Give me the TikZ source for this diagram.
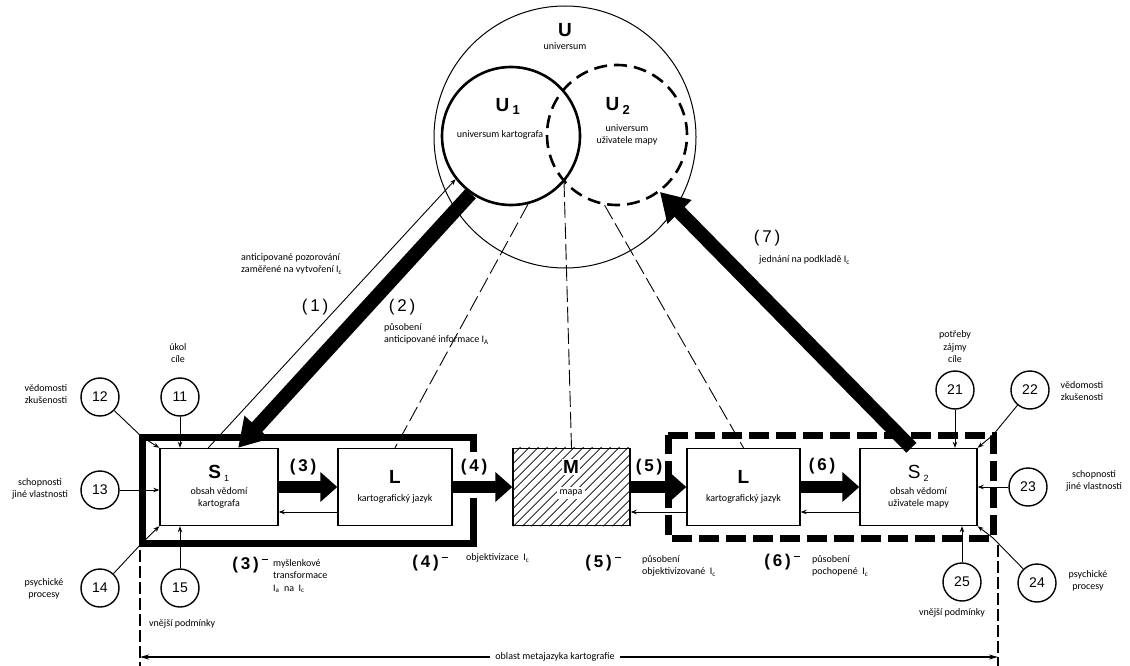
\documentclass[tikz,border=0pt]{standalone}
\usepackage{fontspec}
\setmainfont{Carlito}
\newfontfamily\headf{Liberation Sans}
\usetikzlibrary{arrows.meta,calc}
\newcommand{\Ic}{I\textsubscript{c}}
\newcommand{\Ia}{I\textsubscript{a}}
\newcommand{\IA}{I\textsubscript{A}}
\newcommand{\negmark}{\,\raisebox{9pt}{\rule{6pt}{1.8pt}}}

\begin{document}
\begin{tikzpicture}[
  x=1pt, y=-1pt, font=\fontsize{10}{12.5}\selectfont,
  txt/.style   ={align=center, inner sep=1pt},
  txtl/.style  ={align=left, inner sep=1pt, anchor=west},
  numc/.style  ={draw, circle, line width=1.4pt, minimum size=38pt, inner sep=0pt,
                 font=\headf\fontsize{14}{14}\selectfont},
  box/.style   ={draw, line width=1.4pt, inner sep=0pt, align=center,
                 minimum height=77pt, fill=white},
  head/.style  ={font=\headf\bfseries\fontsize{19}{19}\selectfont, inner sep=1pt},
  tag/.style   ={font=\headf\fontsize{17}{17}\selectfont, inner sep=1pt},
  btag/.style  ={font=\headf\bfseries\fontsize{17}{17}\selectfont, inner sep=1pt},
  big/.style   ={-{Triangle[length=17pt,width=29pt]}, line width=12pt},
  lean/.style  ={-{Triangle[length=28pt,width=32pt]}, line width=14pt},
  feed/.style  ={-{Stealth[length=6pt,width=4.5pt]}, line width=0.9pt},
  ray/.style   ={dash pattern=on 16pt off 5pt, line width=0.9pt},
  vdash/.style ={dash pattern=on 12pt off 4pt, line width=1.2pt},
  frame/.style ={line width=7pt, line join=miter},
]
\useasboundingbox (0,0) rectangle (1130,666);

% Universes -- big circle with two overlapping ones.
\node[circle, draw, line width=1pt, minimum size=262pt, inner sep=0pt] (uni) at (565,137) {};
\node[circle, draw, line width=2.6pt, minimum size=138pt, inner sep=0pt] (u1) at (511,136) {};
\node[circle, draw, line width=2.6pt, dash pattern=on 13pt off 7pt,
      minimum size=140pt, inner sep=0pt] (u2) at (617,135) {};
\coordinate (ux) at (564,181);
\node[head] (ulab)  at (565,30) {U};
\node[txt]  (utxt)  at (565,46) {universum};
\node[head] (u1lab) at (508,106) {U\,\textsubscript{\fontsize{13}{13}\selectfont 1}};
\node[txt]  (u1txt) at (500,135) {universum kartografa};
\node[head] (u2lab) at (618,106) {U\,\textsubscript{\fontsize{13}{13}\selectfont 2}};
\node[txt]  (u2txt) at (627,135) {universum\\uživatele mapy};

% Frames round both processing chains.
\coordinate (f1nw) at (142,437); \coordinate (f1ne) at (473,437);
\coordinate (f1sw) at (142,543); \coordinate (f1se) at (473,543);
\coordinate (f2nw) at (668,435); \coordinate (f2ne) at (993,435);
\coordinate (f2sw) at (668,538); \coordinate (f2se) at (993,538);
\draw[frame] (473,452) -- (f1ne) -- (f1nw) -- (f1sw) -- (f1se) -- (473,498);
\draw[frame, dash pattern=on 20pt off 7pt] (f2nw) -- (f2ne) -- (f2se) -- (f2sw) -- cycle;

% Chain of boxes.
\node[box, minimum width=118pt] (s1) at (219,487)
  {{\headf\bfseries\fontsize{19}{19}\selectfont S\,\textsubscript{\mdseries\fontsize{9}{9}\selectfont 1}}\\[3pt]
   obsah vědomí\\kartografa};
\node[box, minimum width=114pt] (l1) at (395,487)
  {{\headf\bfseries\fontsize{19}{19}\selectfont L}\\[5pt]kartografický jazyk};
\node[box, minimum width=117pt] (m)  at (571.5,487) {};
\node[box, minimum width=113pt] (l2) at (743.5,487)
  {{\headf\bfseries\fontsize{19}{19}\selectfont L}\\[5pt]kartografický jazyk};
\node[box, minimum width=117pt] (s2) at (918.5,487)
  {{\headf\fontsize{19}{19}\selectfont S\,\textsubscript{\fontsize{9}{9}\selectfont 2}}\\[3pt]
   obsah vědomí\\uživatele mapy};

% Hatched map.
\begin{scope}
  \clip (m.south west) rectangle (m.north east);
  \foreach \k in {0,...,23}
    \draw[line width=0.7pt] ($(m.south west)+(\k*9-80,0)$) -- ++(80,-80);
\end{scope}
\node[head, inner sep=1pt, fill=white] (mlab) at (571,467) {M};
\node[txt, fill=white, inner sep=3pt] (mtxt) at (571,493) {mapa};

% Projections from the universes.
\draw[ray] (u1.-76) -- (l1.north);
\draw[ray] (ux) -- (m.north);
\draw[ray] (u2.-100) -- (l2.north);

% Main flow (thick) and feedback (thin).
\draw[big] (s1.east) -- (l1.west);
\draw[big] (l1.east) -- (m.west);
\draw[big] (m.east)  -- (l2.west);
\draw[big] (l2.east) -- (s2.west);
\draw[feed] ([yshift=-25pt]l1.west) -- ([yshift=-25pt]s1.east);
\draw[feed] ([yshift=-25pt]l2.west) -- ([yshift=-25pt]m.east);
\draw[feed] ([yshift=-25pt]s2.west) -- ([yshift=-25pt]l2.east);

% Links with the universes.
\draw[feed] ($(s1.north west)!0.41!(s1.north east)$) -- (u1.218);
\draw[lean] (u1.235) -- ($(s1.north west)!0.66!(s1.north east)$);
\draw[lean] ($(s2.north west)!0.44!(s2.north east)$) -- (u2.-53);

\node[txtl] (t1a) at (240,264) {anticipované pozorování\\zaměřené na vytvoření \Ic};
\node[tag]  (n1)  at (315,307) {(\,1\,)};
\node[tag]  (n2)  at (402,307) {(\,2\,)};
\node[txtl] (t2a) at (383,334) {působení\\anticipované informace \IA};
\node[tag]  (n7)  at (767,238) {(\,7\,)};
\node[txtl] (t7a) at (758,260) {jednání na podkladě \Ic};

% Step tags along the chain.
\node[btag] (n3) at (303,467) {(\,3\,)};
\node[btag] (n4) at (474,467) {(\,4\,)};
\node[btag] (n5) at (649,467) {(\,5\,)};
\node[btag] (n6) at (822,466) {(\,6\,)};
\node[btag] (n3m) at (250,565) {(\,3\,)\negmark};
\node[btag] (n4m) at (430,563) {(\,4\,)\negmark};
\node[btag] (n5m) at (603,563) {(\,5\,)\negmark};
\node[btag] (n6m) at (782,562) {(\,6\,)\negmark};
\node[txtl, anchor=north west] (t3m) at (272,558) {myšlenkové\\transformace\\\Ia\ \ na \ \Ic};
\node[txtl] (t4m) at (465,558) {objektivizace \ \Ic};
\node[txtl] (t5m) at (641,566) {působení\\objektivizované \ \Ic};
\node[txtl] (t6m) at (811,566) {působení\\pochopené \ \Ic};

% Influences on the cartographer.
\node[numc] (c11) at (180,397) {11};
\node[numc] (c12) at (100,397) {12};
\node[numc] (c13) at (100,490) {13};
\node[numc] (c14) at (100,588) {14};
\node[numc] (c15) at (180,588) {15};
\node[txt] (t11) at (178,353) {úkol\\cíle};
\node[txt] (t12) at (46,394)  {vědomosti\\zkušenosti};
\node[txt] (t13) at (40,489)  {schopnosti\\jiné vlastnosti};
\node[txt] (t14) at (44,589)  {psychické\\procesy};
\node[txtl] (t15) at (148,624) {vnější podmínky};
\draw[feed] (c11) -- (c11 |- s1.north);
\draw[feed] (c12) -- (f1nw) -- (s1.north west);
\draw[feed] (c13) -- (c13 -| s1.west);
\draw[feed] (c14) -- (f1sw) -- (s1.south west);
\draw[feed] (c15) -- (c15 |- s1.south);

% Influences on the map user.
\node[numc] (c21) at (955,390) {21};
\node[numc] (c22) at (1030,390) {22};
\node[numc] (c23) at (1028,487) {23};
\node[numc] (c24) at (1037,583) {24};
\node[numc] (c25) at (962,582) {25};
\node[txt] (t21) at (955,347) {potřeby\\zájmy\\cíle};
\node[txt] (t22) at (1082,391) {vědomosti\\zkušenosti};
\node[txt] (t23) at (1094,481) {schopnosti\\jiné vlastnosti};
\node[txt] (t24) at (1088,581) {psychické\\procesy};
\node[txt] (t25) at (952,613) {vnější podmínky};
\draw[feed] (c21) -- (c21 |- s2.north);
\draw[feed] (c22) -- (f2ne) -- (s2.north east);
\draw[feed] (c23) -- (c23 -| s2.east);
\draw[feed] (c24) -- (f2se) -- (s2.south east);
\draw[feed] (c25) -- (c25 |- s2.south);

% Metalanguage range.
\coordinate (bl) at (140,657);
\coordinate (br) at (998,657);
\draw[vdash] ([yshift=-7pt]f1sw -| bl) -- (140,666);
\draw[vdash] ([yshift=-7pt]f2se -| br) -- (998,666);
\draw[{Stealth[length=9pt,width=5pt]}-{Stealth[length=9pt,width=5pt]}, line width=1.5pt] (bl) -- (br);
\node[txt, fill=white, inner sep=5pt] (meta) at (555,657) {oblast metajazyka kartografie};
\end{tikzpicture}
\end{document}
